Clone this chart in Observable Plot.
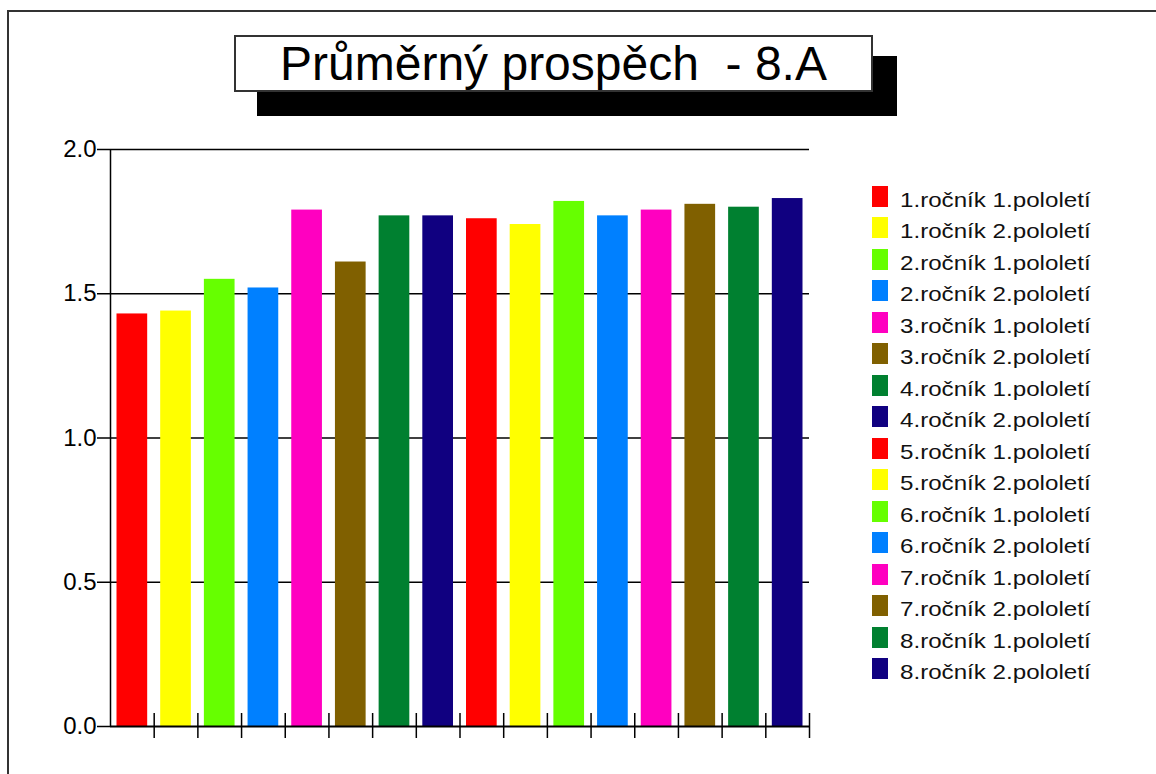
<!DOCTYPE html>
<html>
<head>
<meta charset="utf-8">
<script src="https://cdn.jsdelivr.net/npm/d3@7"></script>
<script src="https://cdn.jsdelivr.net/npm/@observablehq/plot@0.6"></script>
<style>
  html, body { margin: 0; padding: 0; background: #fff; overflow: hidden; }
  body { width: 1156px; height: 774px; position: relative; font-family: "Liberation Sans", Arial, sans-serif; }
  #frame { position: absolute; left: 7px; top: 10px; width: 1300px; height: 900px; border-left: 2px solid #333; border-top: 2px solid #333; }
  #chart { position: absolute; left: 0; top: 0; }
  #shadow { position: absolute; left: 257px; top: 56px; width: 640px; height: 60px; background: #000; }
  #title { position: absolute; left: 234px; top: 35px; width: 635px; height: 53px; border: 2px solid #333; background: #fff;
           font-size: 48px; line-height: 53px; text-align: center; white-space: pre; color: #000; }
  .row { position: absolute; left: 872px; height: 21px; }
  .sw { position: absolute; left: 0; top: 0; width: 16px; height: 21px; }
  .lbl { position: absolute; left: 28px; top: 0px; font-size: 21px; line-height: 21px; white-space: nowrap; color: #111;
         transform: scaleX(1.15); transform-origin: left center; }
</style>
</head>
<body>
<div id="frame"></div>
<div id="chart"></div>
<div id="shadow"></div>
<div id="title">Průměrný prospěch  - 8.A</div>
<div id="legend"></div>
<script>
const titleText = "Průměrný prospěch  - 8.A";
const categories = [
  "1.ročník 1.pololetí", "1.ročník 2.pololetí",
  "2.ročník 1.pololetí", "2.ročník 2.pololetí",
  "3.ročník 1.pololetí", "3.ročník 2.pololetí",
  "4.ročník 1.pololetí", "4.ročník 2.pololetí",
  "5.ročník 1.pololetí", "5.ročník 2.pololetí",
  "6.ročník 1.pololetí", "6.ročník 2.pololetí",
  "7.ročník 1.pololetí", "7.ročník 2.pololetí",
  "8.ročník 1.pololetí", "8.ročník 2.pololetí"
];
const values = [1.43, 1.44, 1.55, 1.52, 1.79, 1.61, 1.77, 1.77, 1.76, 1.74, 1.82, 1.77, 1.79, 1.81, 1.80, 1.83];
const colors = [
  "#ff0000", "#ffff00", "#66ff00", "#0080ff", "#ff00c0", "#806000", "#008030", "#100080",
  "#ff0000", "#ffff00", "#66ff00", "#0080ff", "#ff00c0", "#806000", "#008030", "#100080"
];
const yTicks = [0, 0.5, 1.0, 1.5, 2.0];

const data = categories.map((c, i) => ({category: c, index: i, value: values[i], color: colors[i]}));
const boundaries = d3.range(1, categories.length + 1);

const plot = Plot.plot({
  width: 1156,
  height: 774,
  marginLeft: 110,
  marginRight: 347,
  marginTop: 149,
  marginBottom: 48,
  style: {fontFamily: "'Liberation Sans', Arial, sans-serif", color: "#000", background: "transparent"},
  x: {type: "linear", domain: [0, categories.length], axis: null},
  y: {domain: [0, 2]},
  color: {type: "identity"},
  marks: [
    Plot.ruleY(yTicks.filter(d => d > 0), {stroke: "#000", strokeWidth: 1.5}),
    Plot.rectY(data, {x1: "index", x2: d => d.index + 1, y: "value", fill: "color", insetLeft: 6.5, insetRight: 6.5}),
    Plot.ruleX([0], {y1: 0, y2: 2, stroke: "#000", strokeWidth: 1.5}),
    Plot.ruleY([0], {stroke: "#000", strokeWidth: 2}),
    Plot.ruleX(boundaries, {x: d => d, y1: 0, y2: 0, insetTop: -13, insetBottom: -12, stroke: "#000", strokeWidth: 1.5}),
    Plot.axisY({ticks: yTicks, tickFormat: d3.format(".1f"), tickSize: 13, tickPadding: 1, fontSize: 24, label: null, stroke: "#000", strokeWidth: 1.5, fill: "#000"})
  ]
});
document.getElementById("chart").appendChild(plot);

const legend = document.getElementById("legend");
categories.forEach((c, i) => {
  const row = document.createElement("div");
  row.className = "row";
  row.style.top = (186 + i * 31.47) + "px";
  const sw = document.createElement("div");
  sw.className = "sw";
  sw.style.background = colors[i];
  const lbl = document.createElement("div");
  lbl.className = "lbl";
  lbl.style.top = "3px";
  lbl.textContent = c;
  row.appendChild(sw);
  row.appendChild(lbl);
  legend.appendChild(row);
});
</script>
</body>
</html>
